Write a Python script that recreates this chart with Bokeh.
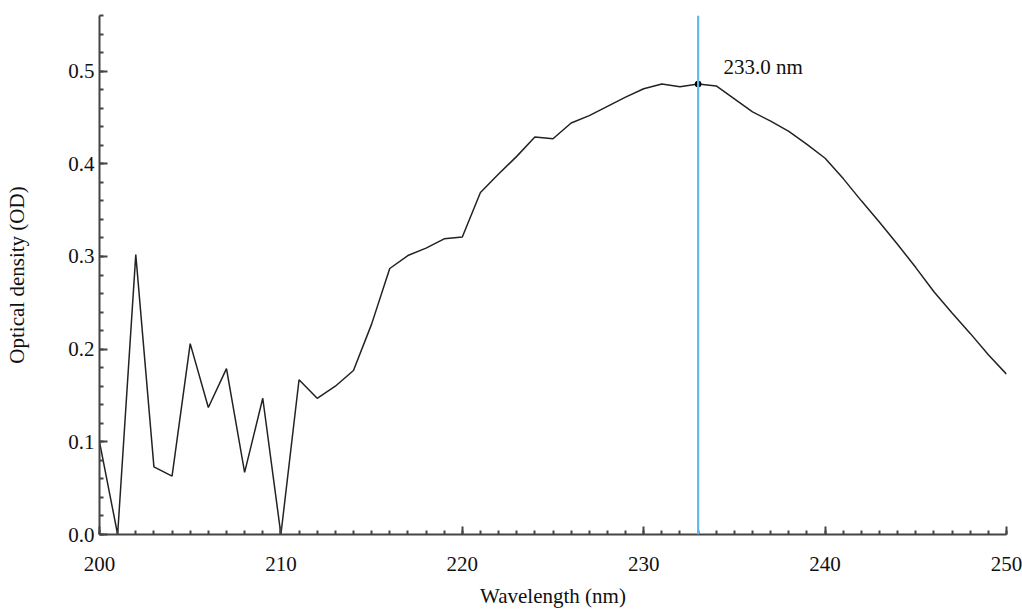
from bokeh.plotting import figure
from bokeh.models import SingleIntervalTicker, NumeralTickFormatter, Span, Label, Range1d
from bokeh.embed import file_html
from bokeh.resources import INLINE

wavelength = list(range(200, 251))
optical_density = [
    0.100, 0.000, 0.302, 0.073, 0.063, 0.206, 0.137, 0.179, 0.067, 0.147,
    0.000, 0.167, 0.147, 0.160, 0.177, 0.227, 0.287, 0.301, 0.309, 0.319,
    0.321, 0.369, 0.389, 0.408, 0.429, 0.427, 0.444, 0.452, 0.462, 0.472,
    0.481, 0.486, 0.483, 0.486, 0.484, 0.470, 0.456, 0.446, 0.435, 0.421,
    0.406, 0.384, 0.360, 0.337, 0.313, 0.288, 0.262, 0.239, 0.217, 0.194,
    0.173,
]
peak_wavelength = 233.0
peak_od = 0.486
peak_label = "233.0 nm"

FONT = "'Liberation Serif', 'Times New Roman', serif"

p = figure(width=1022, height=609, output_backend="svg", toolbar_location=None,
           x_range=Range1d(200, 250), y_range=Range1d(0, 0.56),
           frame_width=907, frame_height=519,
           min_border_left=99, min_border_right=16, min_border_top=15, min_border_bottom=10)
p.outline_line_color = None
p.xgrid.visible = False
p.ygrid.visible = False
p.background_fill_color = "white"

p.line(wavelength, optical_density, line_color="#222222", line_width=1.5)

vline = Span(location=peak_wavelength, dimension="height", line_color="#62B9F2", line_width=2.2)
p.add_layout(vline)
p.scatter([peak_wavelength], [peak_od], size=6, color="black")

p.add_layout(Label(x=234.4, y=0.504, text=peak_label, text_font=FONT,
                   text_font_size="21px", text_baseline="middle", text_color="#111111"))

for ax in (p.xaxis[0], p.yaxis[0]):
    ax.axis_line_color = "#444444"
    ax.axis_line_width = 2
    ax.major_tick_line_color = "#444444"
    ax.minor_tick_line_color = "#444444"
    ax.major_tick_line_width = 2
    ax.minor_tick_line_width = 2
    ax.major_tick_in = 8
    ax.major_tick_out = 0
    ax.minor_tick_in = 4
    ax.minor_tick_out = 0
    ax.major_label_text_font = FONT
    ax.major_label_text_font_size = "21px"
    ax.major_label_text_color = "#111111"
    ax.axis_label_text_font = FONT
    ax.axis_label_text_font_size = "21px"
    ax.axis_label_text_font_style = "normal"
    ax.axis_label_text_color = "#111111"

p.xaxis.ticker = SingleIntervalTicker(interval=10, num_minor_ticks=10)
p.yaxis.ticker = SingleIntervalTicker(interval=0.1, num_minor_ticks=5)
p.yaxis.formatter = NumeralTickFormatter(format="0.0")
p.xaxis.axis_label = "Wavelength (nm)"
p.yaxis.axis_label = "Optical density (OD)"
p.xaxis.major_label_standoff = 22
p.xaxis.axis_label_standoff = 10
p.yaxis.major_label_standoff = 5
p.yaxis.axis_label_standoff = 36

open("out.html", "w").write(file_html(p, INLINE))
